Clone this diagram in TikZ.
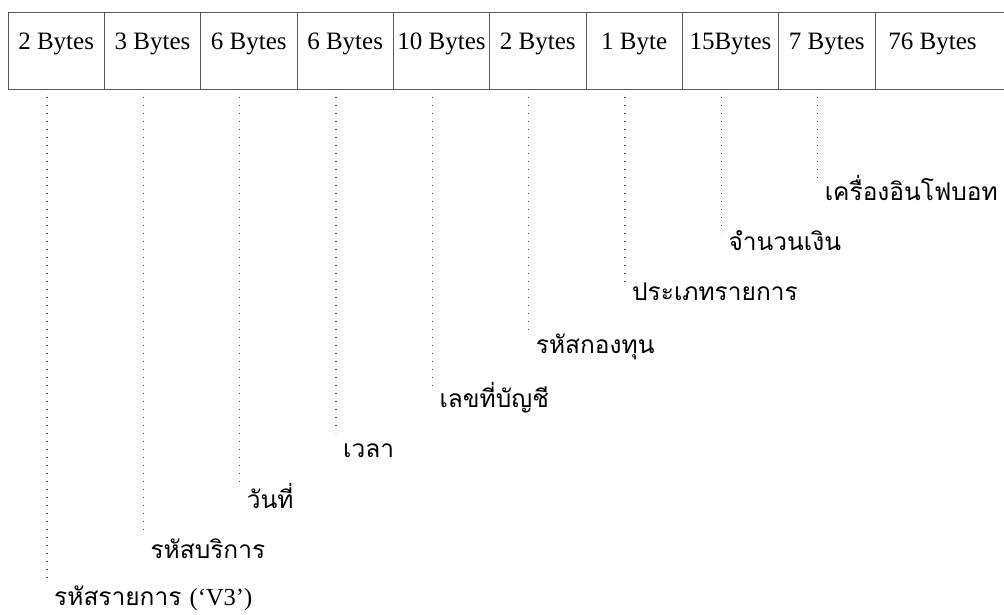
\documentclass[tikz,border=0pt]{standalone}
\usepackage{fontspec}
\setmainfont{Liberation Serif}
\newfontfamily\thaifont[Script=Thai]{Loma}
\usetikzlibrary{positioning}

\begin{document}
\begin{tikzpicture}[x=1pt, y=-1pt]

  \tikzstyle{frame}=[draw=black!65, line width=0.8pt]
  \tikzstyle{cell}=[frame, outer sep=0pt, inner sep=0pt, minimum width=96.33pt,
    minimum height=77pt, text height=17pt, text depth=19pt,
    font=\fontsize{25}{25}\selectfont]
  \tikzstyle{field}=[anchor=base west, inner xsep=7pt, inner ysep=0pt,
    font=\thaifont\fontsize{24.5}{24.5}\selectfont]
  \tikzstyle{leader}=[draw=black!75, line width=1.4pt, dash pattern=on 1.2pt off 6.8pt]

  \useasboundingbox (0,0) rectangle (1004,615);

  \node [cell, anchor=north west] (cell-1) at (8,12) {2 Bytes};
  \foreach \s [count=\x from 2, remember=\x as \lastx (initially 1)]
      in {3 Bytes, 6 Bytes, 6 Bytes, 10 Bytes, 2 Bytes, 1 Byte, 15Bytes, 7 Bytes} {
    \node [cell, right = 0pt of cell-\lastx] (cell-\x) {\s};
  }
  \node [cell, draw=none, minimum width=115pt, right = 0pt of cell-9] (cell-10) {76 Bytes};
  \draw [frame] (cell-10.north west) -- ++(140,0);
  \draw [frame] (cell-10.south west) -- ++(140,0);

  % field names hanging from the cells (line drop / text drop)
  \foreach \lbl/\e/\b [count=\i] in {
      {รหัสรายการ {\rmfamily(‘V3’)}}/493/516, รหัสบริการ/446/469, วันที่/399/419,
      เวลา/344/368, เลขที่บัญชี/299/318, รหัสกองทุน/243/264,
      ประเภทรายการ/198/211, จำนวนเงิน/144/161, เครื่องอินโฟบอท/94/111} {
    \coordinate (tick-\i) at ([xshift=39pt]cell-\i.south west);
    \path (tick-\i) ++(0,\e) coordinate (end-\i);
    \path (tick-\i) ++(0,\b) node [field] (fld-\i) {\lbl};
    \draw [leader] (tick-\i) -- (end-\i);
  }

\end{tikzpicture}
\end{document}
